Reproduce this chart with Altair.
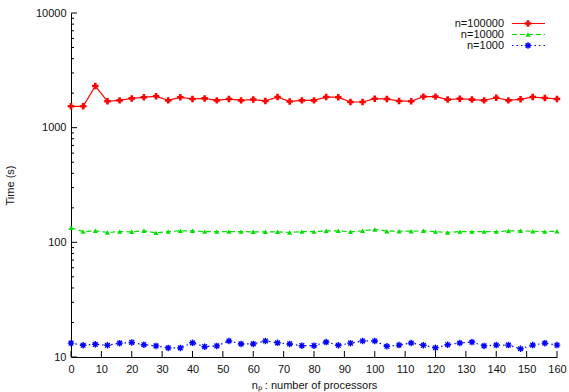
import altair as alt
import pandas as pd

# Number of processors (x) and run times (seconds) for three problem sizes
procs = list(range(0, 161, 4))

t_100000 = [1535, 1535, 2310, 1700, 1730, 1800, 1840, 1880, 1730, 1840, 1780,
            1800, 1730, 1780, 1730, 1760, 1710, 1850, 1690, 1730, 1730,
            1850, 1840, 1675, 1675, 1790, 1780, 1710, 1700, 1865, 1865,
            1757, 1790, 1757, 1730, 1825, 1730, 1770, 1850, 1815, 1780]

t_10000 = [134, 124, 126, 122, 124, 123.5, 126, 121, 124, 126, 126,
           124, 124, 124, 124, 123.5, 123.5, 123.5, 122, 124, 124,
           126, 126, 123.5, 126, 129.5, 125, 125, 125, 126, 124,
           122, 124, 124, 124, 124, 126, 126, 125, 124, 125]

t_1000 = [13.2, 12.65, 12.9, 12.65, 13.2, 13.4, 12.8, 12.5, 12.0, 12.0, 13.3,
          12.3, 12.5, 13.8, 13.0, 13.0, 13.8, 13.3, 13.0, 12.55, 12.55,
          13.5, 12.65, 13.2, 13.8, 13.8, 12.4, 12.7, 13.25, 12.65, 12.05,
          12.8, 13.25, 13.5, 12.5, 12.7, 12.7, 11.8, 12.7, 13.2, 12.7]

series = ["n=100000", "n=10000", "n=1000"]
colors = ["#ff0000", "#00e000", "#0000ff"]
dashes = [[1, 0], [5, 3], [1.5, 3]]

x_ticks = list(range(0, 161, 10))
y_major = [10, 100, 1000, 10000]
y_minor = [m * 10 ** k for k in range(1, 4) for m in range(2, 10)]

W, H = 486, 344
FONT = "Liberation Sans"

asterisk = "M-1,0L1,0M0,-1L0,1M-0.72,-0.72L0.72,0.72M-0.72,0.72L0.72,-0.72"
markers = [
    dict(shape="cross", filled=True, size=42, strokeWidth=0),
    dict(shape="triangle-up", filled=True, size=26, strokeWidth=0),
    dict(shape=asterisk, filled=False, size=42, strokeWidth=1.4),
]

x_scale = alt.Scale(domain=[0, 160], nice=False, zero=False)
y_scale = alt.Scale(type="log", domain=[10, 10000], nice=False)

x_axis = alt.Axis(values=x_ticks, tickSize=0, grid=False, domainColor="black",
                  labelFontSize=11, labelFont=FONT, labelColor="#111",
                  labelPadding=6, labelFlush=False, labelOverlap=False,
                  title="n\u209a : number of processors",
                  titleFont=FONT, titleFontSize=11, titleFontWeight="normal",
                  titleColor="#111", titlePadding=5)
y_axis = alt.Axis(values=y_major, format="d", tickSize=0, grid=False,
                  domainColor="black", labelFontSize=11, labelFont=FONT,
                  labelColor="#111", labelPadding=5, labelFlush=False,
                  labelOverlap=False, title="Time (s)",
                  titleFont=FONT, titleFontSize=11, titleFontWeight="normal",
                  titleColor="#111", titlePadding=20)

xenc = alt.X("procs:Q", scale=x_scale, axis=x_axis)
yenc = alt.Y("time:Q", scale=y_scale, axis=y_axis)


def marker(data, col, mk):
    kw = dict(shape=mk["shape"], filled=mk["filled"], size=mk["size"],
              strokeWidth=mk["strokeWidth"], opacity=1)
    if mk["filled"]:
        kw["fill"] = col
    else:
        kw["stroke"] = col
    return alt.Chart(data).mark_point(**kw)


layers = []
for name, vals, col, dash, mk in zip(series, [t_100000, t_10000, t_1000],
                                     colors, dashes, markers):
    df = pd.DataFrame({"procs": procs, "time": vals})
    line = alt.Chart(df).mark_line(color=col, strokeWidth=1.2,
                                   strokeDash=dash).encode(x=xenc, y=yenc)
    pts = marker(df, col, mk).encode(x=xenc, y=yenc)
    layers += [line, pts]

# Inward-pointing tick marks, gnuplot style
xt = alt.Chart(pd.DataFrame({"procs": x_ticks})).mark_rule(
    color="black", strokeWidth=1).encode(
    x=xenc, y=alt.value(H), y2=alt.value(H - 6))
ytM = alt.Chart(pd.DataFrame({"time": y_major})).mark_rule(
    color="black", strokeWidth=1).encode(
    y=yenc, x=alt.value(0), x2=alt.value(6))
ytm = alt.Chart(pd.DataFrame({"time": y_minor})).mark_rule(
    color="black", strokeWidth=1).encode(
    y=yenc, x=alt.value(0), x2=alt.value(3))
layers += [xt, ytM, ytm]

# Key in the upper right corner: label, line sample, marker
for i, (name, col, dash, mk) in enumerate(zip(series, colors, dashes, markers)):
    ky = 10.5 + 11 * i
    kd = pd.DataFrame({"label": [name]})
    layers.append(alt.Chart(kd).mark_text(
        align="right", baseline="middle", font=FONT, fontSize=11,
        color="#111").encode(text="label:N", x=alt.value(433), y=alt.value(ky)))
    layers.append(alt.Chart(kd).mark_rule(
        color=col, strokeWidth=1.2, strokeDash=dash).encode(
        x=alt.value(441), x2=alt.value(474), y=alt.value(ky)))
    layers.append(marker(kd, col, mk).encode(
        x=alt.value(457), y=alt.value(ky)))

chart = alt.layer(*layers).properties(
    width=W, height=H,
    autosize=alt.AutoSizeParams(type="none"),
    padding={"left": 71, "top": 13, "right": 12, "bottom": 35},
    background="white",
).configure_view(stroke=None)

chart.save("out.html", embed_options={"renderer": "svg", "actions": False})
